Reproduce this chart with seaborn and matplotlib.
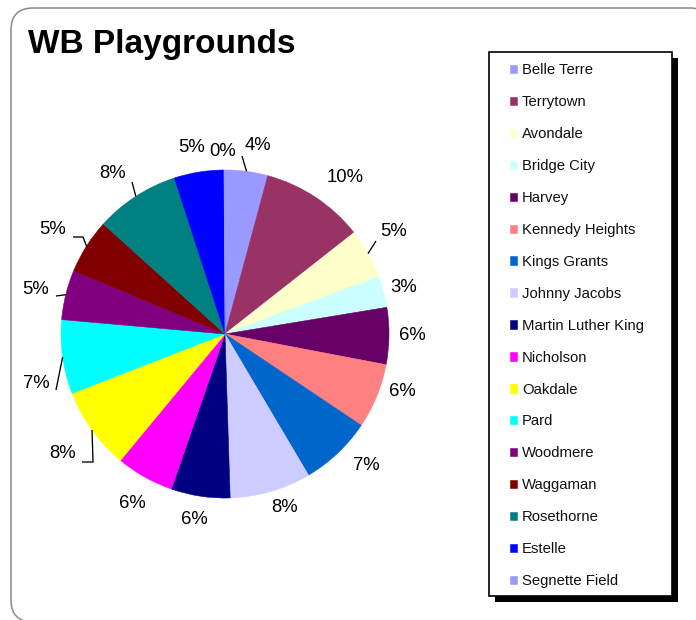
import numpy as np
import matplotlib
matplotlib.use("Agg")
import matplotlib.pyplot as plt
import seaborn as sns
from matplotlib.patches import FancyBboxPatch, Rectangle

# Playground sites, in drawing order (clockwise from 12 o'clock)
sites = ["Belle Terre", "Terrytown", "Avondale", "Bridge City", "Harvey",
         "Kennedy Heights", "Kings Grants", "Johnny Jacobs", "Martin Luther King",
         "Nicholson", "Oakdale", "Pard", "Woodmere", "Waggaman", "Rosethorne",
         "Estelle", "Segnette Field"]
# Share of the total for each site (percent)
share = [4.2, 10.2, 4.9, 3.1, 5.6, 6.4, 7.1, 8.0, 5.8, 5.7, 8.1, 7.3, 4.9,
         5.4, 8.3, 4.9, 0.1]
colors = ["#9999FF", "#993366", "#FFFFCC", "#CCFFFF", "#660066", "#FF8080",
          "#0066CC", "#CCCCFF", "#000080", "#FF00FF", "#FFFF00", "#00FFFF",
          "#800080", "#800000", "#008080", "#0000FF", "#9999FF"]

sns.set_theme(style="white")
plt.rcParams["font.family"] = ["Liberation Sans", "DejaVu Sans"]

W, H = 696, 620
fig = plt.figure(figsize=(W / 100, H / 100), dpi=100)
fig.patch.set_facecolor("white")
ax = fig.add_axes([0, 0, 1, 1])


def flip(y):
    """Convert a top-down pixel row to the axes' bottom-up y."""
    return H - y


# Rounded chart-area border
ax.add_patch(FancyBboxPatch((11, flip(622)), 701, 614,
                            boxstyle="round,pad=0,rounding_size=22",
                            facecolor="white", edgecolor="#8a8a8a",
                            linewidth=1.1, clip_on=False, zorder=0))

# Pie
cx, cy, R = 225, flip(334), 164
palette = sns.color_palette(colors)
wedges, _ = ax.pie(share, colors=palette, startangle=90, counterclock=False,
                   center=(cx, cy), radius=R)
for w in wedges:
    w.set_edgecolor(w.get_facecolor())
    w.set_linewidth(0.4)
    w.set_zorder(2)

# Percent labels (text centres, pixel layout)
label_pos = [(258, 146), (345, 177), (394, 231), (404, 288), (412, 335),
             (402, 392), (366, 466), (285, 508), (194, 519), (132, 504),
             (63, 454), (36, 384), (36, 289), (53, 229), (113, 174),
             (192, 148), (223, 151)]
total = sum(share)
for v, (lx, ly) in zip(share, label_pos):
    ax.text(lx, flip(ly), f"{100 * v / total:.0f}%", ha="center",
            va="center", fontsize=13.3, color="black", zorder=4)

# Leader lines: from the wedge rim at its mid-angle out toward the label
leaders = {0: [(242, 156)], 2: [(376, 241)], 10: [(93, 462), (82, 462)],
           11: [(56, 390)], 12: [(56, 296)], 13: [(83, 237), (73, 237)],
           14: [(132, 182)]}
for i, pts in leaders.items():
    w = wedges[i]
    mid = np.deg2rad((w.theta1 + w.theta2) / 2)
    xs = [cx + R * np.cos(mid)] + [p[0] for p in pts]
    ys = [cy + R * np.sin(mid)] + [flip(p[1]) for p in pts]
    ax.plot(xs, ys, color="black", linewidth=0.95, zorder=3,
            solid_capstyle="butt")

# Title
ax.text(28, flip(53), "WB Playgrounds", fontsize=24, fontweight="bold",
        ha="left", va="baseline", color="black", zorder=4)

# Legend box with drop shadow
ax.add_patch(Rectangle((495, flip(602)), 183, 544, facecolor="black",
                       edgecolor="none", zorder=1, clip_on=False))
ax.add_patch(Rectangle((489, flip(596)), 183, 544, facecolor="white",
                       edgecolor="black", linewidth=1.2, zorder=1.5,
                       clip_on=False))
leg = ax.legend(wedges, sites, loc="upper left",
                bbox_to_anchor=(510, flip(63.5)), bbox_transform=ax.transData,
                frameon=False, fontsize=10.7, handlelength=0.5,
                handleheight=0.5, handletextpad=0.3, labelspacing=1.205,
                borderpad=0, borderaxespad=0)
for t in leg.get_texts():
    t.set_color("#111111")
leg.set_zorder(5)

ax.set_xlim(0, W)
ax.set_ylim(0, H)
ax.set_aspect("auto")
ax.axis("off")

fig.savefig("out.png", dpi=100)
